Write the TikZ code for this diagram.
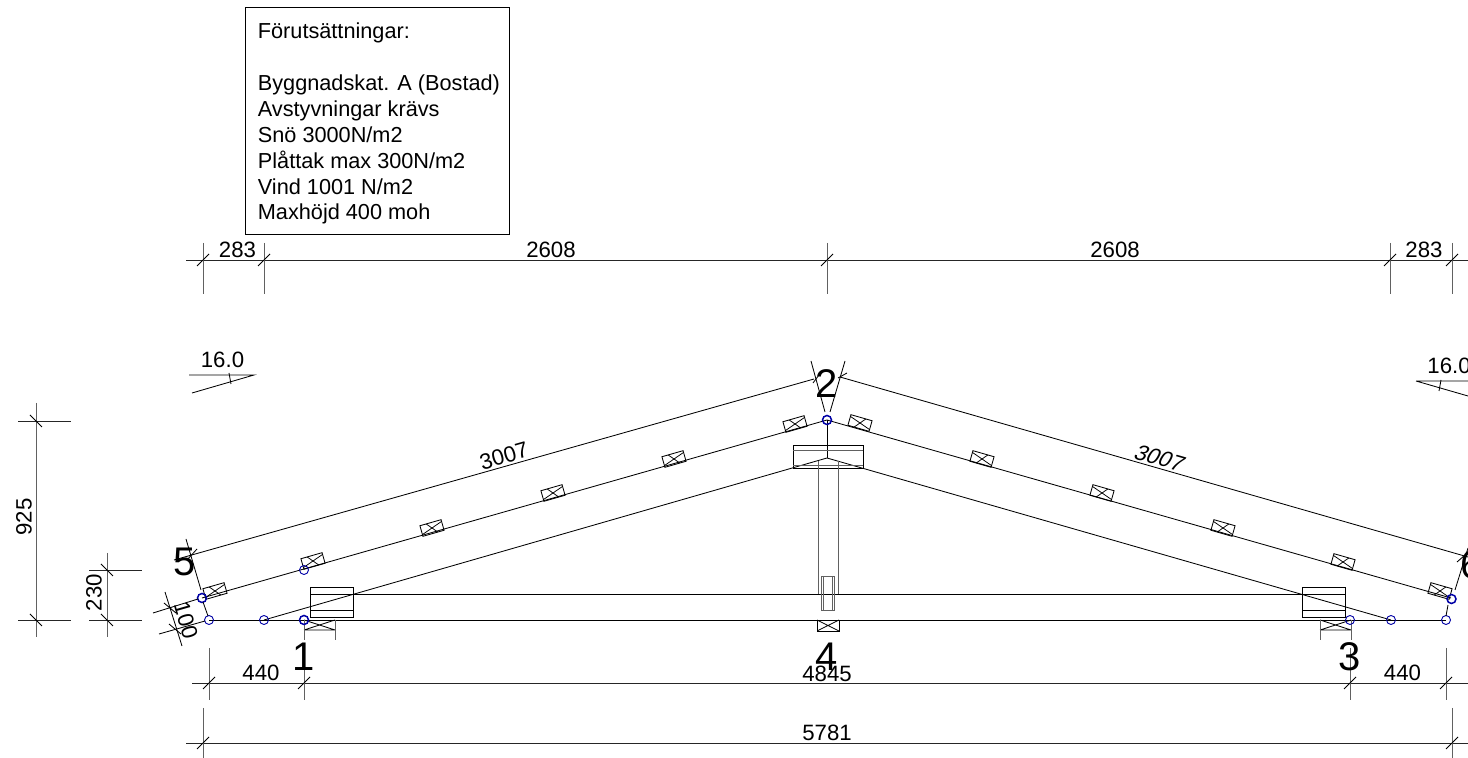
\documentclass[tikz,border=0pt]{standalone}
\usepackage{fontspec}
\setmainfont{Liberation Sans}
\begin{document}
\begin{tikzpicture}[x=0.5pt,y=-0.5pt,
  ln/.style={line width=0.42pt,black},
  ext/.style={line width=0.5pt,black!62},
  dim/.style={line width=0.42pt,black!85},
  tk/.style={line width=0.42pt,black},
  lbl/.style={inner sep=0pt,font=\fontsize{11.1}{13}\selectfont},
  big/.style={inner sep=0pt,font=\fontsize{20}{22}\selectfont},
  joint/.style={circle,draw=blue!65!black,line width=0.45pt,minimum size=4.5pt,inner sep=0pt},
  jointb/.style={joint,line width=0.75pt},
  purlin/.style={draw,line width=0.42pt,rectangle,minimum width=11pt,minimum height=5.5pt,inner sep=0pt,
    path picture={\draw[line width=0.38pt] (path picture bounding box.north west)--(path picture bounding box.south east)
      (path picture bounding box.north east)--(path picture bounding box.south west);}}]
\clip (0,0) rectangle (1468,758);
\fill[white] (0,0) rectangle (1468,758);
% info box
\node[draw,line width=0.45pt,anchor=north west,minimum width=132pt,minimum height=113.5pt,inner sep=0pt] (box) at (245,7) {};
\node[anchor=north west,align=left,inner sep=0pt,font=\fontsize{10.85}{12.95}\selectfont] (info) at (257.5,22.5) {Förutsättningar:\\\mbox{}\\Byggnadskat. A (Bostad)\\Avstyvningar krävs\\Snö 3000N/m2\\Plåttak max 300N/m2\\Vind 1001 N/m2\\Maxhöjd 400 moh};
% key coordinates
\coordinate (baseL) at (209,620);
\coordinate (baseR) at (1446,620);
\coordinate (apex) at (827,458);
\coordinate (inL) at (264,620);
\coordinate (inR) at (1391,620);
\coordinate (mid) at (827,420);
\coordinate (midL) at (202,598);
\coordinate (midR) at (1451,598);
\coordinate (outL) at (174,560);
\coordinate (outR) at (1468,557);
\coordinate (outTL) at (814,379);
\coordinate (outTR) at (840,377);
% timber lines
\draw[ln] (baseL)--(baseR);
\draw[ln] (midL)--(mid)--(midR);
\draw[ln] (inL)--(apex)--(inR);
\draw[ln] (outL)--(outTL);
\draw[ln] (outTR)--(outR);
\draw[ln] (353,594)--(1302,594);
\draw[ln] (mid)--(apex);
% plates
\draw[ln] (310,587) rectangle (353,617) (310,594)--(353,594) (310,610)--(353,610);
\draw[ln] (1302,587) rectangle (1345,617) (1302,594)--(1345,594) (1302,610)--(1345,610);
\draw[ln] (793,445) rectangle (863,468);
\draw[ext,line width=0.35pt] (793,450)--(863,450) (793,465)--(863,465);
% post
\draw[ext] (818,461)--(818,594) (838,461)--(838,594);
\draw[ext] (821,577) rectangle (834,611);
\draw[ext,line width=0.35pt] (823,577)--(823,611) (832,577)--(832,611);
% supports
\node[purlin,minimum width=11pt,minimum height=5.5pt] (sup4) at (828,625.5) {};
\draw[ln] (304,630)--(335,630) (304,620)--(335,630) (304,630)--(335,620);
\draw[ext] (335,620)--(335,640) (304,620)--(304,640);
\draw[ln] (1320,630)--(1351,630) (1320,620)--(1351,630) (1320,630)--(1351,620);
\draw[ext] (1320,620)--(1320,640) (1351,620)--(1351,640);
% purlins
\foreach \n/\x/\y in {a/215/591,b/313/561,c/432/528,d/553/493,e/674/459,f/795/424}
  \node[purlin,rotate=16] (p\n) at (\x,\y) {};
\foreach \n/\x/\y in {g/860/423,h/982/459,i/1102/493,j/1223/528,k/1343/562,l/1440/591}
  \node[purlin,rotate=-16] (p\n) at (\x,\y) {};
% joints
\foreach \n/\x/\y in {b/209/620,c/264/620,e/304/570,g/1350/620,h/1391/620,i/1446/620}
  \node[joint] (j\n) at (\x,\y) {};
\foreach \n/\x/\y in {a/202/598,d/304/620,f/827/420,j/1451.5/599}
  \node[jointb] (j\n) at (\x,\y) {};
% extension lines at eaves and ridge
\draw[tk] (186,539)--(201,590) (203,602)--(208,616);
\draw[tk] (1448,605)--(1446,616) (1455,590)--(1468,548);
\draw[tk] (811,361)--(825,412) (845,361)--(830,412);
\draw[tk] (813,383)--(819,375) (838,378)--(847,373);
\draw[tk] (187,560)--(197,549) (1457,562)--(1465,555);
\draw[tk] (153,613)--(198,599) (159,634)--(205,621);
\draw[tk] (165,592)--(182,646);
\draw[tk] (164,603)--(176,613) (169,624)--(181,634);
% dimension 100
\node[lbl,rotate=-74] (d100) at (186,620) {100};
% top dimensions
\draw[dim] (186,260)--(1468,260);
\foreach \x in {203,264,827,1390,1452}{
  \draw[ext] (\x,243)--(\x,294);
  \draw[tk] (\x-6,266)--(\x+6,254);}
\node[lbl] (t1) at (237.5,250) {283};
\node[lbl] (t2) at (551,250) {2608};
\node[lbl] (t3) at (1115,250) {2608};
\node[lbl] (t4) at (1424,250) {283};
% slope marks
\draw[ln] (189,375)--(254,375)--(192,393);
\draw[tk] (229,373)--(231,384);
\node[lbl] (s1) at (222.5,360) {16.0};
\draw[ln] (1416,381)--(1468,381) (1416,381)--(1468,396);
\draw[tk] (1441,380)--(1439,391);
\node[lbl] (s2) at (1449,366) {16.0};
% chord labels
\node[lbl,rotate=16] (c1) at (504,456) {3007};
\node[lbl,rotate=-16,xslant=0.25] (c2) at (1160,458) {3007};
% left dimensions
\draw[ext] (36,403)--(36,637) (107,553)--(107,637);
\draw[dim] (18,421)--(71,421) (18,620)--(71,620) (89,570)--(142,570) (89,620)--(142,620);
\draw[tk] (30,415)--(42,427) (30,614)--(42,626) (101,564)--(113,576) (101,614)--(113,626);
\node[lbl,rotate=90] (d925) at (24,517) {925};
\node[lbl,rotate=90] (d230) at (94,592.5) {230};
% bottom dimensions
\draw[dim] (192,683)--(1468,683) (186,743)--(1468,743);
\foreach \x in {209,304,1350,1446}{
  \draw[ext] (\x,648)--(\x,700);
  \draw[tk] (\x-6,689)--(\x+6,677);}
\foreach \x in {203,1452}{
  \draw[ext] (\x,708)--(\x,758);
  \draw[tk] (\x-6,749)--(\x+6,737);}
\node[lbl] (b1) at (261,673) {440};
\node[lbl] (b2) at (827,674) {4845};
\node[lbl] (b3) at (1402.5,673) {440};
\node[lbl] (b4) at (827,733) {5781};
% joint numbers
\node[big] (n5) at (185,562) {5};
\node[big] (n2) at (827,384) {2};
\node[big] (n1) at (304,657) {1};
\node[big] (n4) at (827,657) {4};
\node[big] (n3) at (1350,657) {3};
\node[big] (n6) at (1472,565) {6};
\end{tikzpicture}
\end{document}
